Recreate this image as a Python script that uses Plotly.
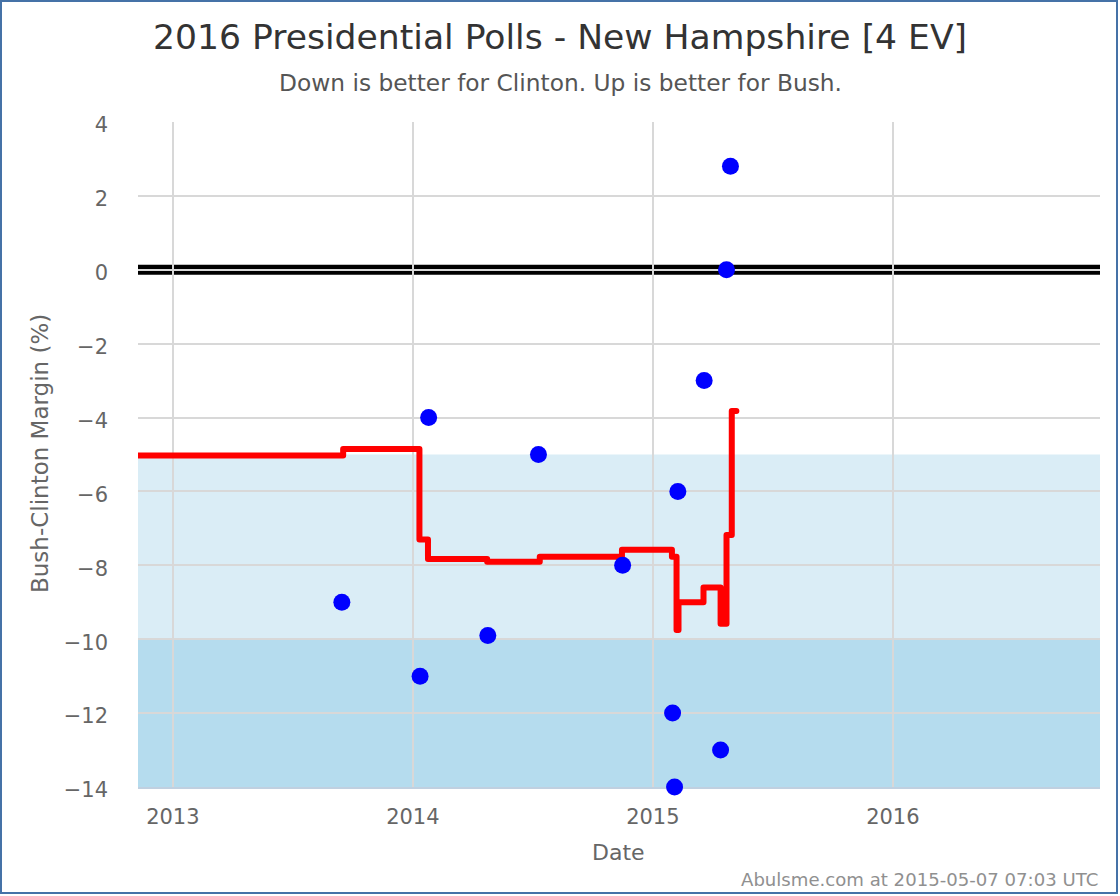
import plotly.graph_objects as go

# polls
poll_dates = ["2013-09-15", "2014-01-12", "2014-01-25", "2014-04-25", "2014-07-11", "2014-11-16",
              "2015-01-31", "2015-02-03", "2015-02-08", "2015-03-20", "2015-04-14", "2015-04-23", "2015-04-29"]
poll_margins = [-9, -11, -4, -9.9, -5, -8, -12, -14, -6, -3, -13, 0, 2.8]

# running average, drawn as a step line
avg_dates = ["2012-11-09", "2013-09-17", "2014-01-11", "2014-01-24", "2014-04-24", "2014-07-13", "2014-11-15",
             "2015-01-30", "2015-02-06", "2015-02-09", "2015-03-19", "2015-04-14", "2015-04-23", "2015-05-01", "2015-05-08"]
avg_margins = [-5.03, -4.85, -7.3, -7.83, -7.9, -7.77, -7.58, -7.77, -9.75, -9.0, -8.6, -9.58, -7.18, -3.82, -3.82]

year_ticks = ["2013-01-01", "2014-01-01", "2015-01-01", "2016-01-01"]
margin_ticks = [4, 2, 0, -2, -4, -6, -8, -10, -12, -14]

W, H = 1118, 894
LEFT, RIGHT, TOP, BOTTOM = 138, 1100, 122, 787
FONT = "DejaVu Sans"

fig = go.Figure()
fig.add_trace(go.Scatter(x=avg_dates, y=avg_margins, mode="lines",
                         line=dict(color="#ff0000", width=6, shape="hv"), showlegend=False))
fig.add_trace(go.Scatter(x=poll_dates, y=poll_margins, mode="markers",
                         marker=dict(color="#0000ff", size=17), cliponaxis=False, showlegend=False))


def label(text, px, py, size, color, anchor="center", angle=0):
    fig.add_annotation(text=text, x=px / W, y=1 - py / H, xref="paper", yref="paper", showarrow=False,
                       xanchor=anchor, yanchor="middle", textangle=angle, font=dict(size=size, color=color))


label("2016 Presidential Polls - New Hampshire [4 EV]", 560, 37, 34.6, "#333333")
label("Down is better for Clinton. Up is better for Bush.", 560, 82, 23.3, "#555555")
label("Date", 618, 852, 22, "#666666")
label("Bush-Clinton Margin (%)", 40, 454, 23, "#666666", angle=-90)
label("Abulsme.com at 2015-05-07 07:03 UTC", 1100, 879, 18.1, "#909090", anchor="right")

# bands and the zero line sit under the grid
fig.add_shape(type="rect", xref="x domain", yref="y", x0=0, x1=1, y0=-10, y1=-5,
              fillcolor="#daedf6", line_width=0, layer="below")
fig.add_shape(type="rect", xref="x domain", yref="y", x0=0, x1=1, y0=-14, y1=-10,
              fillcolor="#b5dcee", line_width=0, layer="below")
fig.add_shape(type="rect", xref="x domain", yref="y", x0=0, x1=1, y0=-0.135, y1=0.135,
              fillcolor="#000000", line_width=0, layer="below")
fig.add_shape(type="rect", xref="paper", yref="paper", x0=0, x1=1, y0=0, y1=1,
              line=dict(color="#4572a7", width=4), fillcolor="rgba(0,0,0,0)")

fig.update_xaxes(type="date", range=["2012-11-09", "2016-11-11"], domain=[LEFT / W, RIGHT / W],
                 tickvals=year_ticks, tickformat="%Y", tickfont=dict(size=21, color="#666666"),
                 showgrid=True, gridcolor="#d8d8d8", gridwidth=2, zeroline=False, layer="below traces",
                 showline=True, linecolor="#c0d0e0", linewidth=2, ticks="", ticklabelstandoff=10)
fig.update_yaxes(range=[-14, 4], domain=[1 - BOTTOM / H, 1 - TOP / H],
                 tickvals=margin_ticks, tickfont=dict(size=21, color="#666666"),
                 showgrid=True, gridcolor="#d8d8d8", gridwidth=2, zeroline=False, layer="below traces",
                 ticks="", ticklabelstandoff=29, ticklabelshift=3)
fig.update_layout(width=W, height=H, margin=dict(l=0, r=0, t=0, b=0, autoexpand=False), paper_bgcolor="white",
                  plot_bgcolor="white", font=dict(family=FONT), showlegend=False)

# round the corners and ends of the step line
round_line = ("document.body.style.margin='0';"
              "document.querySelectorAll('.js-line').forEach(function(p){"
              "p.style.strokeLinejoin='round';p.style.strokeLinecap='round';});")
fig.write_html("out.html", config={"displayModeBar": False}, post_script=round_line)
